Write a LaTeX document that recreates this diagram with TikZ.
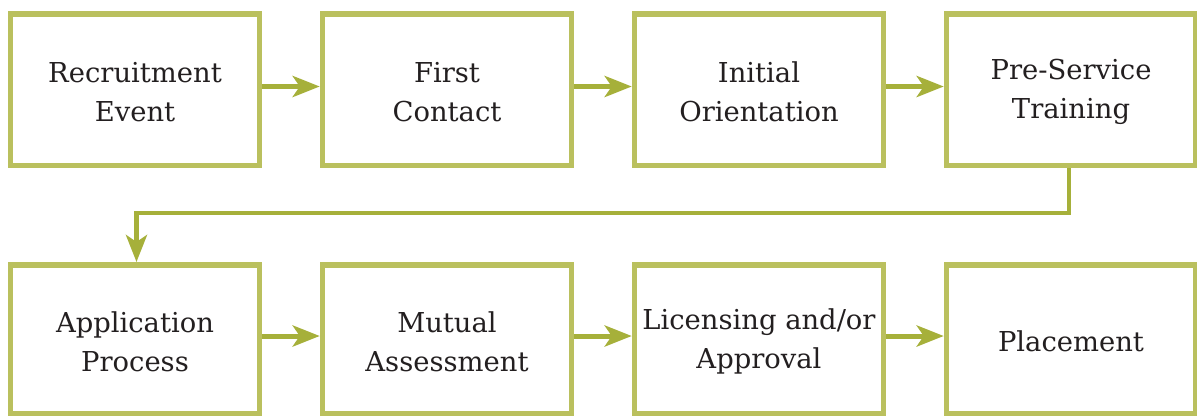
\documentclass[tikz,border=0pt]{standalone}
\usepackage{fontspec}
\setmainfont{DejaVu Serif}
\usetikzlibrary{arrows.meta}
\definecolor{boxline}{RGB}{186,192,94}
\definecolor{arrowline}{RGB}{166,176,58}
\definecolor{ink}{RGB}{35,31,32}
\begin{document}
\begin{tikzpicture}[x=1pt,y=-1pt,
  stage/.style={draw=boxline, line width=5.5pt, fill=white,
    minimum width=249pt, inner sep=0pt},
  toprow/.style={stage, minimum height=151.5pt},
  botrow/.style={stage, minimum height=148.5pt},
  caption/.style={text=ink, align=center, inner sep=0pt, yshift=-2.5pt,
    font=\fontsize{27.4}{39}\selectfont},
  flow/.style={draw=arrowline, line width=5pt,
    -{Stealth[length=27pt, width=21pt, inset=7pt]}}
]
\useasboundingbox (0,0) rectangle (1197,416);

% first row of stages
\node[toprow, label={[caption]center:Recruitment\\Event}]  (b1) at (135,89.5)  {};
\node[toprow, label={[caption]center:First\\Contact}]      (b2) at (447,89.5)  {};
\node[toprow, label={[caption]center:Initial\\Orientation}] (b3) at (759,89.5) {};
\node[toprow, label={[caption]center:Pre-Service\\Training}] (b4) at (1071,89.5) {};

% second row of stages
\node[botrow, label={[caption]center:Application\\Process}]      (b5) at (135,339)  {};
\node[botrow, label={[caption]center:Mutual\\Assessment}]        (b6) at (447,339)  {};
\node[botrow, label={[caption]center:Licensing and/or\\Approval}] (b7) at (759,339) {};
\node[botrow, label={[caption]center:Placement}]                 (b8) at (1071,339) {};

% arrows between neighbouring stages
\foreach \a/\b in {b1/b2,b2/b3,b3/b4,b5/b6,b6/b7,b7/b8}
  \draw[flow] ([yshift=3pt]\a.east) -- ([yshift=3pt]\b.west);

% wrap-around from the end of the first row to the start of the second
\coordinate (drop) at ([xshift=-2pt]b4.south);
\draw[flow, line width=4.7pt] (drop) -- (drop |- 0,213) -- ([xshift=1.5pt]b5.north |- 0,213) -- ([xshift=1.5pt]b5.north);
\end{tikzpicture}
\end{document}
